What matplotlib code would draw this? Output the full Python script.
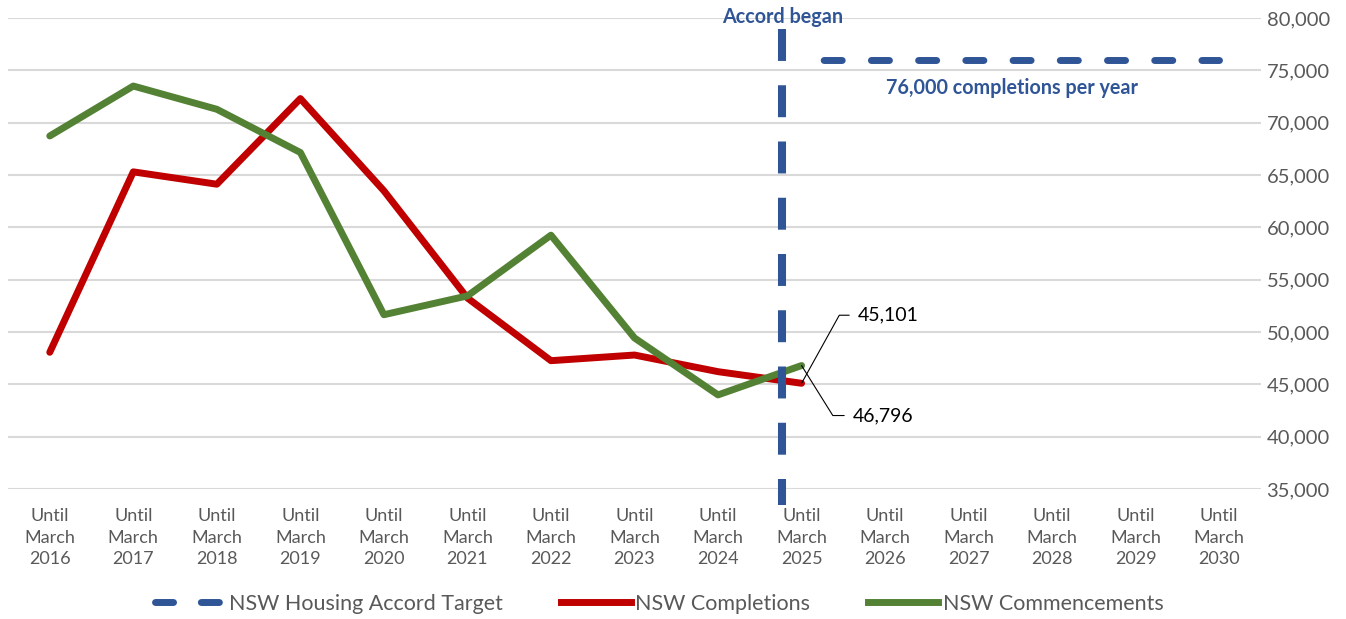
import numpy as np
import matplotlib
matplotlib.use('Agg')
import matplotlib.pyplot as plt
from matplotlib.lines import Line2D

plt.rcParams['font.family'] = ['Lato', 'DejaVu Sans']
plt.rcParams['lines.scale_dashes'] = False

# data
years = list(range(2016, 2031))
tick_labels = [f'Until\nMarch\n{y}' for y in years]
completions = [48060, 65300, 64120, 72300, 63490, 53250, 47260, 47800, 46210, 45101]
commencements = [68730, 73500, 71280, 67150, 51650, 53450, 59250, 49430, 43990, 46796]
target_years = [2025, 2026, 2027, 2028, 2029, 2030]
target = [76000] * len(target_years)
accord_pos = 8.77  # between 2024 and 2025 categories

BLUE = '#2F5597'
RED = '#C00000'
GREEN = '#548235'
GREY = '#595959'

def idx(ys):
    return [years.index(y) for y in ys]

fig = plt.figure(figsize=(13.46, 6.19), dpi=100)
ax = fig.add_axes([8 / 1346, 1 - 489 / 619, (1261 - 8) / 1346, (489 - 18) / 619])

ax.plot(idx(years[:len(completions)]), completions, color=RED, lw=5, solid_capstyle='round',
        solid_joinstyle='round', label='NSW Completions', zorder=3)
ax.plot(idx(years[:len(commencements)]), commencements, color=GREEN, lw=5, solid_capstyle='round',
        solid_joinstyle='round', label='NSW Commencements', zorder=3)
ax.plot(idx(target_years), target, color=BLUE, lw=5, dash_capstyle='round',
        linestyle=(18.4, (13, 21)), label='NSW Housing Accord Target', zorder=3)

# vertical "accord began" line, runs past the plot bottom
ax.plot([accord_pos, accord_pos], [78980, 33450], color=BLUE, lw=5.8, dash_capstyle='butt',
        linestyle=(0, (23, 17.5)), clip_on=False, zorder=4)
ax.text(accord_pos, 80100, 'Accord began', color=BLUE, fontsize=14.2, fontweight='bold',
        ha='center', va='center', zorder=5)
ax.text(11.52, 73300, '76,000 completions per year', color=BLUE, fontsize=14.2,
        fontweight='bold', ha='center', va='center')

# end labels with leader lines
ax.annotate(f'{completions[-1]:,}', xy=(len(completions) - 1, completions[-1]),
            xytext=(40.3, 49), textcoords='offset points', ha='left', va='center',
            fontsize=14, color='black',
            arrowprops=dict(arrowstyle='-', color='black', lw=0.8, shrinkA=4, shrinkB=0,
                            relpos=(0, 0.5), connectionstyle='angle,angleA=0,angleB=61,rad=0'))
ax.annotate(f'{commencements[-1]:,}', xy=(len(commencements) - 1, commencements[-1]),
            xytext=(36.7, -36), textcoords='offset points', ha='left', va='center',
            fontsize=14, color='black',
            arrowprops=dict(arrowstyle='-', color='black', lw=0.8, shrinkA=4, shrinkB=0,
                            relpos=(0, 0.5), connectionstyle='angle,angleA=0,angleB=-58,rad=0'))

ax.set_xlim(-0.5, len(years) - 0.5)
ax.set_ylim(35000, 80000)
ax.set_yticks(range(35000, 80001, 5000))
ax.yaxis.tick_right()
ax.yaxis.set_major_formatter(matplotlib.ticker.FuncFormatter(lambda v, p: f'{int(v):,}'))
ax.set_xticks(range(len(years)))
ax.set_xticklabels(tick_labels, linespacing=1.45)
ax.tick_params(axis='both', length=0, colors=GREY)
ax.tick_params(axis='x', pad=13.5, labelsize=13)
ax.tick_params(axis='y', pad=4, labelsize=14.5)
ax.grid(axis='y', color='#D9D9D9', lw=1.5)
ax.set_axisbelow(True)
for s in ax.spines.values():
    s.set_visible(False)

handles = [Line2D([], [], color=BLUE, lw=5, linestyle=(0, (13, 20)), dash_capstyle='round'),
           Line2D([], [], color=RED, lw=5),
           Line2D([], [], color=GREEN, lw=5)]
labels = ['NSW Housing Accord Target', 'NSW Completions', 'NSW Commencements']
fig.legend(handles, labels, loc='center', bbox_to_anchor=(659 / 1346, 1 - 604 / 619), ncol=3,
           frameon=False, fontsize=15.5, handlelength=3.25, handletextpad=0.2,
           columnspacing=2.7, labelcolor=GREY)

fig.savefig('out.png', dpi=100)
